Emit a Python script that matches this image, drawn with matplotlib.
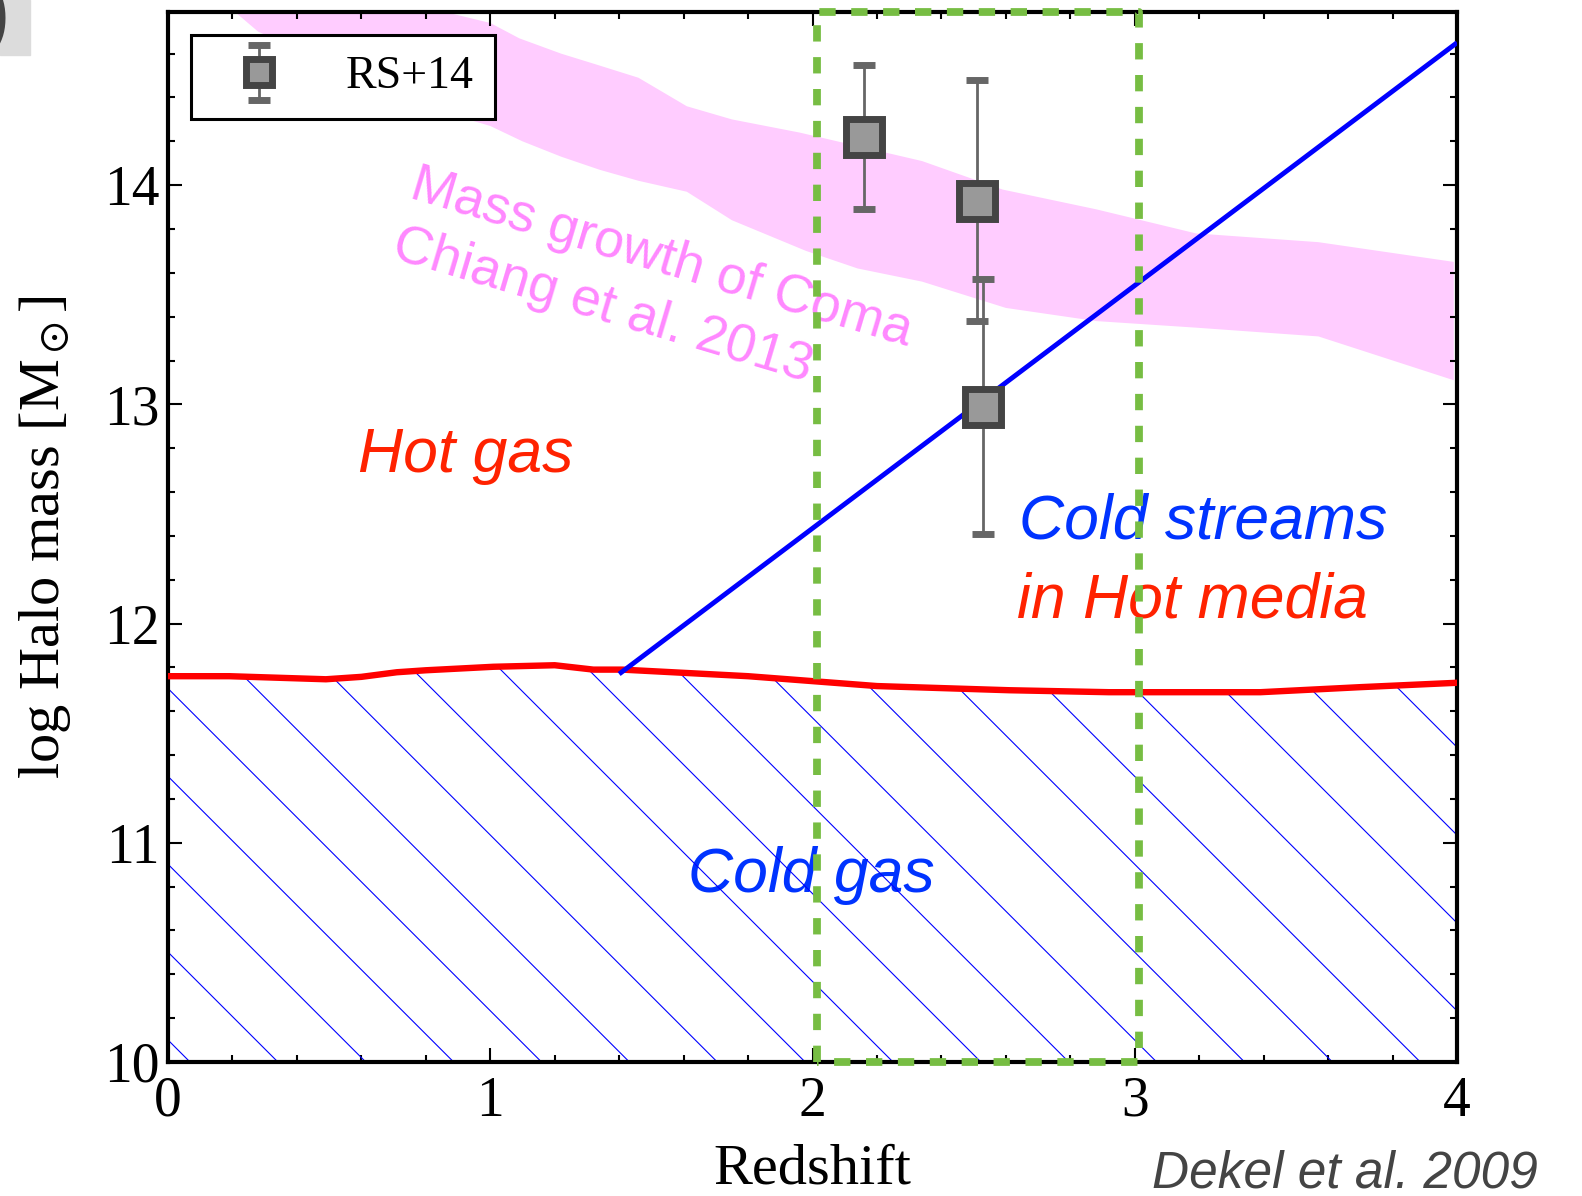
import numpy as np
import matplotlib
matplotlib.use("Agg")
import matplotlib.pyplot as plt
from matplotlib.patches import PathPatch, Rectangle
from matplotlib.legend_handler import HandlerErrorbar
from matplotlib.container import ErrorbarContainer
from matplotlib.ticker import MultipleLocator

plt.rcParams["font.family"] = ["Liberation Serif", "DejaVu Serif"]
plt.rcParams["mathtext.fontset"] = "stix"
SANS = ["Liberation Sans", "DejaVu Sans"]

# Hot/cold boundary: critical halo mass for virial shock stability
shock_z = [0.00, 0.19, 0.49, 0.60, 0.71, 0.80, 1.01, 1.20, 1.32, 1.41,
           1.80, 2.20, 2.61, 2.92, 3.39, 3.70, 4.00]
shock_m = [11.760, 11.760, 11.746, 11.757, 11.778, 11.787, 11.803, 11.810,
           11.790, 11.790, 11.760, 11.715, 11.696, 11.687, 11.687, 11.710, 11.730]

# Upper limit for cold streams penetrating hot haloes
stream_z = [1.40, 4.00]
stream_m = [11.77, 14.65]

# Coma progenitor mass growth band (Chiang et al. 2013)
coma_up_z = [0.20, 0.72, 1.00, 1.09, 1.22, 1.33, 1.46, 1.61, 1.75, 1.96,
             2.34, 2.59, 2.88, 3.19, 3.57, 3.99]
coma_up_m = [15.20, 14.84, 14.74, 14.67, 14.60, 14.55, 14.49, 14.36, 14.30, 14.24,
             14.11, 13.98, 13.89, 13.78, 13.74, 13.65]
coma_lo_z = [0.20, 0.28, 0.84, 1.00, 1.10, 1.22, 1.34, 1.46, 1.61, 1.75, 1.98,
             2.14, 2.34, 2.60, 2.88, 3.19, 3.57, 3.99]
coma_lo_m = [14.80, 14.70, 14.34, 14.27, 14.20, 14.13, 14.07, 14.02, 13.97, 13.84, 13.70,
             13.62, 13.56, 13.44, 13.38, 13.35, 13.31, 13.11]

# RS+14 halo mass estimates
rs_z = [2.16, 2.51, 2.53]
rs_m = [14.22, 13.93, 12.99]
rs_err = [0.33, 0.55, 0.58]

# Redshift window of the protocluster sample
window_z = [2.015, 3.012]

XMIN, XMAX = 0.0, 4.0
YMIN, YMAX = 10.0, 14.79
HATCH_STEP = 0.2727      # spacing of hatch lines along the bottom axis
HATCH_START = 0.0683

fig = plt.figure(figsize=(15.82, 11.96), dpi=100)
ax = fig.add_axes([168 / 1582, 1 - 1062 / 1196, (1457 - 168) / 1582, 1050 / 1196])
ax.set_xlim(XMIN, XMAX)
ax.set_ylim(YMIN, YMAX)

# Coma band
ax.fill(np.concatenate([coma_up_z, coma_lo_z[::-1]]),
        np.concatenate([coma_up_m, coma_lo_m[::-1]]),
        color="#ffccff", lw=0, zorder=1)

# Cold-gas region with sparse diagonal hatching
region = ax.fill_between(shock_z, YMIN, shock_m, facecolor="none",
                         edgecolor="none", zorder=2)
clip = PathPatch(region.get_paths()[0], transform=ax.transData,
                 fc="none", ec="none")
ax.add_patch(clip)
bbox = ax.get_window_extent()
px_x = bbox.width / (XMAX - XMIN)
px_y = bbox.height / (YMAX - YMIN)
rise = 2.5
run = rise * px_y / px_x
for x0 in np.arange(HATCH_START, XMAX + run, HATCH_STEP):
    ln, = ax.plot([x0 - run, x0], [YMIN + rise, YMIN], color="#0000ff",
                  lw=0.8, zorder=2.2)
    ln.set_clip_path(clip)

# Region labels
ax.text(0.59, 12.69, "Hot gas", color="#ff2200", fontsize=45,
        style="italic", family=SANS, zorder=1.5)
ax.text(2.64, 12.39, "Cold streams", color="#0033ff", fontsize=45,
        style="italic", family=SANS, zorder=1.5)
ax.text(2.634, 12.03, "in Hot media", color="#ff2200", fontsize=45,
        style="italic", family=SANS, zorder=1.5)
ax.text(1.613, 10.775, "Cold gas", color="#0033ff", fontsize=45,
        style="italic", family=SANS, zorder=1.5)
ax.text(0.745, 13.946, "Mass growth of Coma", rotation=-16.6,
        rotation_mode="anchor", ha="left", va="baseline",
        color="#ff88ff", fontsize=38.5, family=SANS, zorder=1.5)
ax.text(0.69, 13.672, "Chiang et al. 2013", rotation=-16.6,
        rotation_mode="anchor", ha="left", va="baseline",
        color="#ff88ff", fontsize=38.5, family=SANS, zorder=1.5)

# Boundaries
ax.plot(shock_z, shock_m, color="#ff0000", lw=4.6, zorder=3)
ax.plot(stream_z, stream_m, color="#0000ff", lw=3.5, zorder=3.2,
        solid_capstyle="butt")

# Redshift window box
ax.plot([window_z[0], window_z[0], window_z[1], window_z[1], window_z[0]],
        [YMIN, YMAX, YMAX, YMIN, YMIN], color="#77bd43", lw=5.6,
        dashes=(2.1, 2.0), dash_capstyle="butt", clip_on=False, zorder=6)

# Data points
eb = ax.errorbar(rs_z, rs_m, yerr=rs_err, fmt="s", ms=26, mfc="#999999",
                 mec="#444444", mew=5, ecolor="#666666", elinewidth=2,
                 capsize=8, capthick=5, zorder=5, label="RS+14")

leg = ax.legend(handler_map={ErrorbarContainer: HandlerErrorbar(yerr_size=0.6)},
                loc="upper left", bbox_to_anchor=(0.0176, 0.978),
                borderaxespad=0, fontsize=33, frameon=True, fancybox=False,
                edgecolor="black", framealpha=1, markerscale=0.74,
                handlelength=2.07, handletextpad=0.87, borderpad=0.45)
leg.get_frame().set_linewidth(2.2)
leg.set_zorder(7)

# Axes styling
ax.xaxis.set_major_locator(MultipleLocator(1))
ax.xaxis.set_minor_locator(MultipleLocator(0.2))
ax.yaxis.set_major_locator(MultipleLocator(1))
ax.yaxis.set_minor_locator(MultipleLocator(0.2))
ax.tick_params(which="both", direction="in", top=True, right=True)
ax.tick_params(which="major", length=10, width=1.5, labelsize=40)
ax.tick_params(which="minor", length=5, width=1.5)
ax.tick_params(axis="x", pad=10)
ax.tick_params(axis="y", pad=6)
for s in ax.spines.values():
    s.set_linewidth(3)

ax.set_xlabel("Redshift", fontsize=42, labelpad=11)
ax.set_ylabel(r"log Halo mass [M$_\odot$]", fontsize=42, labelpad=22)

fig.text(1151.7 / 1582, 1 - 1187 / 1196, "Dekel et al. 2009", color="#444444",
         fontsize=37, style="italic", family=SANS, ha="left", va="baseline")

# Panel tag in the corner
fig.patches.append(Rectangle((0, 1 - 55 / 1196), 30 / 1582, 55 / 1196,
                             transform=fig.transFigure, color="#dcdcdc",
                             zorder=0))
fig.text(9 / 1582, 1 - 18 / 1196, ")", color="#444444", fontsize=52,
         fontweight="bold", family=SANS, ha="right", va="center")

fig.savefig("out.png", dpi=100)
